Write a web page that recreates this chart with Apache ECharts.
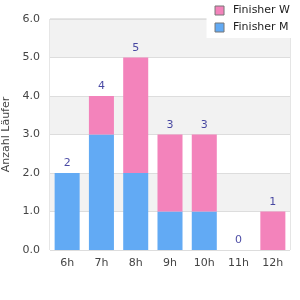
<!DOCTYPE html>
<html>
<head>
<meta charset="utf-8">
<script src="https://cdn.jsdelivr.net/npm/echarts@6/dist/echarts.min.js"></script>
<style>
  html, body { margin: 0; padding: 0; background: #fff; }
  #chart { width: 300px; height: 300px; }
</style>
</head>
<body>
<div id="chart"></div>
<script>
// Stunden (Kategorien)
const hours = ['6h', '7h', '8h', '9h', '10h', '11h', '12h'];
// Finisher je Stunde
const finisherM = [2, 3, 2, 1, 1, 0, 0];
const finisherW = [0, 1, 3, 2, 2, 0, 1];
const totals = [2, 4, 5, 3, 3, 0, 1];

const chart = echarts.init(document.getElementById('chart'));
const textColor = '#444';
const fontFamily = 'DejaVu Sans, sans-serif';

chart.setOption({
  animation: false,
  textStyle: { fontFamily: fontFamily },
  grid: {
    left: 50, right: 10, top: 19, bottom: 50,
    outerBoundsMode: 'none',
    containLabel: false,
    show: true, borderColor: '#ccc', borderWidth: 1
  },
  legend: {
    data: ['Finisher W', 'Finisher M'],
    orient: 'vertical',
    right: 0, top: 0,
    padding: [5, 10, 5, 8],
    backgroundColor: '#fff',
    itemWidth: 9, itemHeight: 9, itemGap: 6,
    icon: 'rect',
    itemStyle: { borderColor: '#777', borderWidth: 1 },
    textStyle: { color: '#222', fontSize: 11, fontFamily: fontFamily, padding: [0, 0, 0, 4] }
  },
  xAxis: {
    type: 'category',
    data: hours,
    axisLine: { show: false },
    axisTick: { show: false },
    axisLabel: { color: textColor, fontSize: 11, margin: 8 }
  },
  yAxis: {
    type: 'value',
    min: 0, max: 6, interval: 1,
    name: 'Anzahl Läufer',
    nameLocation: 'middle',
    nameGap: 38,
    nameTextStyle: { color: textColor, fontSize: 11 },
    axisLabel: { color: textColor, fontSize: 11, formatter: v => v.toFixed(1), margin: 10 },
    splitLine: { lineStyle: { color: '#ddd' } },
    splitArea: { show: true, areaStyle: { color: ['#fff', '#f2f2f2'] } }
  },
  series: [
    {
      name: 'Finisher M', type: 'bar', stack: 'all', data: finisherM,
      barCategoryGap: '27%',
      itemStyle: { color: '#62aaf4' }
    },
    {
      name: 'Finisher W', type: 'bar', stack: 'all', data: finisherW,
      itemStyle: { color: '#f383bb' }
    },
    {
      name: 'Summe', type: 'scatter', data: totals,
      symbolSize: 0, silent: true,
      label: {
        show: true, position: 'top', distance: 4,
        color: '#1a1a8c', fontSize: 11
      }
    }
  ]
});
</script>
</body>
</html>
